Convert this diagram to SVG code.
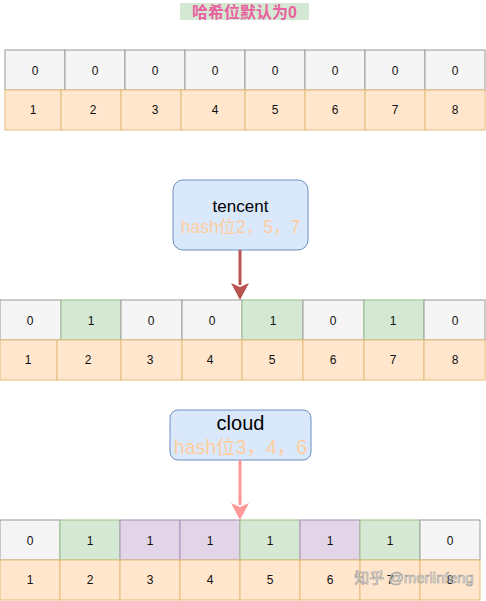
<svg xmlns="http://www.w3.org/2000/svg" width="486" height="601" viewBox="0 0 486 601">
<style>
text{font-family:"Liberation Sans","Noto Sans CJK SC",sans-serif;text-anchor:middle;dominant-baseline:central}
.c{font-size:12px;fill:#111}
.g{fill:#f5f5f5;stroke:#9a9a9a;stroke-width:1}
.gr{fill:#d5e8d4;stroke:#9cc08a;stroke-width:1}
.pu{fill:#e1d5e7;stroke:#ab90b8;stroke-width:1}
.o{fill:#ffe6cc;stroke:#e6bb7a;stroke-width:1}
.box{fill:#dae8fc;stroke:#6c8ebf;stroke-width:1}
.h{font-size:17.5px;fill:#ffce9f}
</style>
<g id="title">
<rect x="180" y="3" width="129" height="17" fill="#d5e8d4"/>
<text x="244.5" y="12" style="font-size:16px;font-weight:bold;fill:#e8629f">哈希位默认为0</text>
</g>
<g id="row1">
<rect class="g" x="5" y="50" width="60" height="40"/><text class="c" x="35" y="71">0</text>
<rect class="g" x="65" y="50" width="60" height="40"/><text class="c" x="95" y="71">0</text>
<rect class="g" x="125" y="50" width="60" height="40"/><text class="c" x="155" y="71">0</text>
<rect class="g" x="185" y="50" width="60" height="40"/><text class="c" x="215" y="71">0</text>
<rect class="g" x="245" y="50" width="60" height="40"/><text class="c" x="275" y="71">0</text>
<rect class="g" x="305" y="50" width="60" height="40"/><text class="c" x="335" y="71">0</text>
<rect class="g" x="365" y="50" width="60" height="40"/><text class="c" x="395" y="71">0</text>
<rect class="g" x="425" y="50" width="60" height="40"/><text class="c" x="455" y="71">0</text>
<rect class="o" x="5" y="90" width="56" height="40"/><text class="c" x="33" y="110">1</text>
<rect class="o" x="61" y="90" width="60" height="40"/><text class="c" x="93" y="110">2</text>
<rect class="o" x="121" y="90" width="60" height="40"/><text class="c" x="155" y="110">3</text>
<rect class="o" x="181" y="90" width="64" height="40"/><text class="c" x="215" y="110">4</text>
<rect class="o" x="245" y="90" width="60" height="40"/><text class="c" x="275" y="110">5</text>
<rect class="o" x="305" y="90" width="60" height="40"/><text class="c" x="335" y="110">6</text>
<rect class="o" x="365" y="90" width="60" height="40"/><text class="c" x="395" y="110">7</text>
<rect class="o" x="425" y="90" width="60" height="40"/><text class="c" x="455" y="110">8</text>
</g>
<g id="tencent">
<rect class="box" x="173" y="180" width="135" height="70" rx="10"/>
<text x="240.5" y="206" style="font-size:17px;fill:#000">tencent</text>
<text class="h" x="240.5" y="227">hash位2，5，7</text>
</g>
<g id="row2">
<rect class="g" x="0" y="300" width="61" height="40"/><text class="c" x="30" y="321">0</text>
<rect class="gr" x="61" y="300" width="60" height="40"/><text class="c" x="91" y="321">1</text>
<rect class="g" x="121" y="300" width="61" height="40"/><text class="c" x="151" y="321">0</text>
<rect class="g" x="182" y="300" width="60" height="40"/><text class="c" x="212" y="321">0</text>
<rect class="gr" x="242" y="300" width="61" height="40"/><text class="c" x="273" y="321">1</text>
<rect class="g" x="303" y="300" width="61" height="40"/><text class="c" x="333" y="321">0</text>
<rect class="gr" x="364" y="300" width="60" height="40"/><text class="c" x="393" y="321">1</text>
<rect class="g" x="424" y="300" width="61" height="40"/><text class="c" x="455" y="321">0</text>
<rect class="o" x="0" y="340" width="57" height="40"/><text class="c" x="28" y="360">1</text>
<rect class="o" x="57" y="340" width="64" height="40"/><text class="c" x="88" y="360">2</text>
<rect class="o" x="121" y="340" width="61" height="40"/><text class="c" x="150" y="360">3</text>
<rect class="o" x="182" y="340" width="60" height="40"/><text class="c" x="210" y="360">4</text>
<rect class="o" x="242" y="340" width="61" height="40"/><text class="c" x="272" y="360">5</text>
<rect class="o" x="303" y="340" width="61" height="40"/><text class="c" x="333" y="360">6</text>
<rect class="o" x="364" y="340" width="60" height="40"/><text class="c" x="393" y="360">7</text>
<rect class="o" x="424" y="340" width="61" height="40"/><text class="c" x="455" y="360">8</text>
</g>
<g id="cloud">
<rect class="box" x="170" y="410" width="141" height="50" rx="8"/>
<text x="240.5" y="423" style="font-size:20px;fill:#000">cloud</text>
<text class="h" x="240.5" y="447" style="font-size:19.5px">hash位3，4，6</text>
</g>
<g id="row3">
<rect class="g" x="0" y="520" width="60" height="40"/><text class="c" x="30" y="541">0</text>
<rect class="gr" x="60" y="520" width="60" height="40"/><text class="c" x="90" y="541">1</text>
<rect class="pu" x="120" y="520" width="60" height="40"/><text class="c" x="150" y="541">1</text>
<rect class="pu" x="180" y="520" width="60" height="40"/><text class="c" x="210" y="541">1</text>
<rect class="gr" x="240" y="520" width="60" height="40"/><text class="c" x="270" y="541">1</text>
<rect class="pu" x="300" y="520" width="60" height="40"/><text class="c" x="330" y="541">1</text>
<rect class="gr" x="360" y="520" width="60" height="40"/><text class="c" x="390" y="541">1</text>
<rect class="g" x="420" y="520" width="60" height="40"/><text class="c" x="450" y="541">0</text>
<rect class="o" x="0" y="560" width="60" height="40"/><text class="c" x="30" y="580">1</text>
<rect class="o" x="60" y="560" width="60" height="40"/><text class="c" x="90" y="580">2</text>
<rect class="o" x="120" y="560" width="60" height="40"/><text class="c" x="150" y="580">3</text>
<rect class="o" x="180" y="560" width="60" height="40"/><text class="c" x="210" y="580">4</text>
<rect class="o" x="240" y="560" width="60" height="40"/><text class="c" x="270" y="580">5</text>
<rect class="o" x="300" y="560" width="60" height="40"/><text class="c" x="330" y="580">6</text>
<rect class="o" x="360" y="560" width="60" height="40"/><text class="c" x="390" y="580">7</text>
<rect class="o" x="420" y="560" width="60" height="40"/><text class="c" x="450" y="580">8</text>
</g>
<g id="connectors">
<line x1="240" y1="250" x2="240" y2="285" stroke="#b85450" stroke-width="3"/>
<path d="M231,283 L240,300 L249,283 L240,287 Z" fill="#b85450"/>
<line x1="240" y1="460" x2="240" y2="505" stroke="#ff9999" stroke-width="3"/>
<path d="M231,503 L240,520 L249,503 L240,507 Z" fill="#ff9999"/>
</g>
<g id="watermark">
<text x="414" y="577" style="font-size:15px;fill:#ffffff;fill-opacity:0.6;stroke:#9a9a9a;stroke-width:0.6">知乎 @merlinfeng</text>
</g>
</svg>
